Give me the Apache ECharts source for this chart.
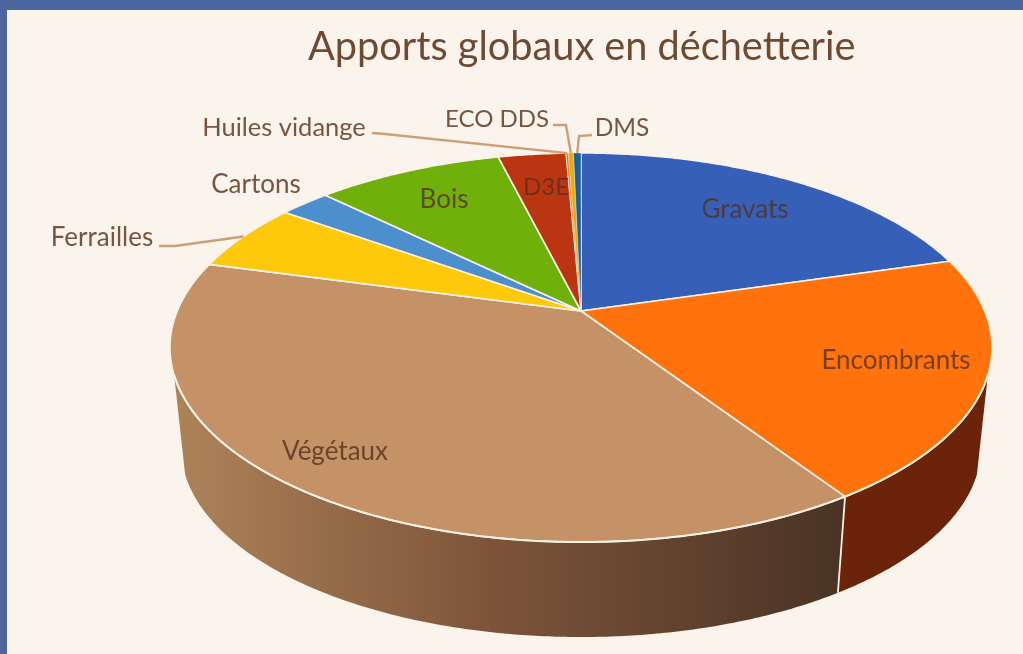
<!DOCTYPE html>
<html>
<head>
<meta charset="utf-8">
<title>Apports globaux en déchetterie</title>
<script src="https://cdn.jsdelivr.net/npm/echarts@6/dist/echarts.min.js"></script>
<style>
  html, body { margin: 0; padding: 0; background: #4a659f; }
  #chart { width: 1023px; height: 654px; }
</style>
</head>
<body>
<div id="chart"></div>
<script>
const categories = ['Gravats', 'Encombrants', 'Végétaux', 'Ferrailles', 'Cartons', 'Bois', 'D3E', 'Huiles vidange', 'ECO DDS', 'DMS']
const values = [20.5, 20.2, 38.5, 5.7, 2.4, 8.8, 3.2, 0.1, 0.25, 0.35]
const colors = ['#3660b8', '#ff720c', '#c49266', '#ffc90b', '#4b90cc', '#70b00a', '#bb3511', '#e0761a', '#eaa90c', '#1a5f9e']

// perspective of the disc: unit circle -> screen
const cx = 581
const cy = 311
const radius = 403.7
const persp = 0.1877
const tilt = -129.3
// the bottom rim is the top rim scaled towards the vanishing point
const vanishY = 4060
const bottomScale = 0.973
// part of the rim where the side wall shows (degrees clockwise from the top)
const wallFrom = 108.7
const wallTo = 251.3

const projectTop = (deg, r = 1) => {
  const a = deg * Math.PI / 180
  const u = r * Math.sin(a)
  const v = r * Math.cos(a)
  const w = 1 + persp * v
  return [cx + radius * u / w, (cy + tilt * v) / w]
}
const projectBottom = (deg) => {
  const p = projectTop(deg)
  return [cx + bottomScale * (p[0] - cx), vanishY + bottomScale * (p[1] - vanishY)]
}
const arcPoints = (from, to, fn) => {
  const pts = []
  const n = Math.max(2, Math.ceil((to - from) * 2))
  for (let i = 0; i <= n; i++) pts.push(fn(from + (to - from) * i / n))
  return pts
}

const total = values.reduce((s, v) => s + v, 0)
const starts = []
const ends = []
values.reduce((acc, v, i) => {
  starts[i] = acc / total * 360
  ends[i] = (acc + v) / total * 360
  return acc + v
}, 0)

const vegetauxIdx = categories.indexOf('Végétaux')
const wallFill = (i) => {
  if (i === vegetauxIdx) {
    return new echarts.graphic.LinearGradient(170, 0, 840, 0, [
      { offset: 0, color: '#ad8459' },
      { offset: 0.48, color: '#7d5439' },
      { offset: 1, color: '#4a3325' }
    ], true)
  }
  return '#6b2409'
}

// label placement
const labelLayout = {
  'Gravats': [745, 210], 'Encombrants': [896, 361], 'Végétaux': [335, 452], 'Bois': [444, 200], 'D3E': [546, 187],
  'Ferrailles': [102, 238], 'Cartons': [256, 185], 'Huiles vidange': [284, 128], 'ECO DDS': [497, 119], 'DMS': [622, 128]
}
const labelSize = { 'Huiles vidange': 25.5, 'ECO DDS': 24, 'DMS': 24.5, 'D3E': 24 }
const outsideLabels = ['Ferrailles', 'Cartons', 'Huiles vidange', 'ECO DDS', 'DMS']
// leader line: label side points, the end sits on the slice rim
const leaders = {
  'Ferrailles': [[159, 246], [175, 246]],
  'Huiles vidange': [[372, 133], [385, 134]],
  'ECO DDS': [[553, 125], [566, 125]],
  'DMS': [[592, 135], [579, 136]]
}

const seriesData = categories.map((name, i) => ({ name, value: values[i] }))

const option = {
  backgroundColor: '#4a659f',
  animation: false,
  title: {
    text: 'Apports globaux en déchetterie',
    left: 303,
    top: 22,
    textStyle: { fontFamily: 'Lato', fontSize: 39.7, fontWeight: 'normal', color: '#6f4a33' }
  },
  graphic: [{
    type: 'rect',
    z: -10,
    silent: true,
    shape: { x: 7, y: 10, width: 1016, height: 644 },
    style: { fill: '#faf4ed' }
  }],
  series: [
    {
      // side wall, only the part facing us
      type: 'custom',
      coordinateSystem: 'none',
      z: 1,
      silent: true,
      data: seriesData,
      renderItem: (params) => {
        const i = params.dataIndex
        const from = Math.max(starts[i], wallFrom)
        const to = Math.min(ends[i], wallTo)
        if (to <= from) return null
        const top = arcPoints(from, to, projectTop)
        const bottom = arcPoints(from, to, projectBottom).reverse()
        return {
          type: 'polygon',
          shape: { points: top.concat(bottom) },
          style: { fill: wallFill(i) }
        }
      }
    },
    {
      // seam between the two visible walls
      type: 'custom',
      coordinateSystem: 'none',
      z: 2,
      silent: true,
      data: [{ name: 'seam', value: ends[1] }],
      renderItem: (params, api) => ({
        type: 'polyline',
        shape: { points: [projectTop(api.value(0)), projectBottom(api.value(0))] },
        style: { stroke: '#fbf1e4', lineWidth: 1.8, fill: null }
      })
    },
    {
      // top face
      type: 'custom',
      coordinateSystem: 'none',
      z: 3,
      silent: true,
      data: seriesData,
      renderItem: (params) => {
        const i = params.dataIndex
        const pts = [[cx, cy]].concat(arcPoints(starts[i], ends[i], projectTop))
        return {
          type: 'polygon',
          shape: { points: pts },
          style: { fill: colors[i], stroke: '#fbf1e4', lineWidth: values[i] < 1 ? 0.4 : 1.6, lineJoin: 'round' }
        }
      }
    },
    {
      // bright front edge of the top face
      type: 'custom',
      coordinateSystem: 'none',
      z: 4,
      silent: true,
      data: [{ name: 'rim', value: wallTo }],
      renderItem: (params, api) => ({
        type: 'polyline',
        shape: { points: arcPoints(wallFrom, api.value(0), projectTop) },
        style: { stroke: '#fbf1e4', lineWidth: 2, fill: null }
      })
    },
    {
      // labels and leader lines
      type: 'custom',
      coordinateSystem: 'none',
      z: 5,
      silent: true,
      data: seriesData,
      renderItem: (params) => {
        const i = params.dataIndex
        const name = categories[i]
        const pos = labelLayout[name]
        const outside = outsideLabels.includes(name)
        const children = [{
          type: 'text',
          style: {
            text: name,
            x: pos[0],
            y: pos[1],
            align: 'center',
            verticalAlign: 'middle',
            font: (labelSize[name] || 26) + 'px Lato',
            fill: outside ? '#765640' : 'rgba(84, 50, 30, 0.8)'
          }
        }]
        if (leaders[name]) {
          const end = projectTop((starts[i] + ends[i]) / 2)
          children.push({
            type: 'polyline',
            shape: { points: leaders[name].concat([end]) },
            style: { stroke: '#c9a077', lineWidth: 2.4, fill: null }
          })
        }
        return { type: 'group', children }
      }
    }
  ]
}

const chart = echarts.init(document.getElementById('chart'), null, { renderer: 'canvas' })
chart.setOption(option)
</script>
</body>
</html>
